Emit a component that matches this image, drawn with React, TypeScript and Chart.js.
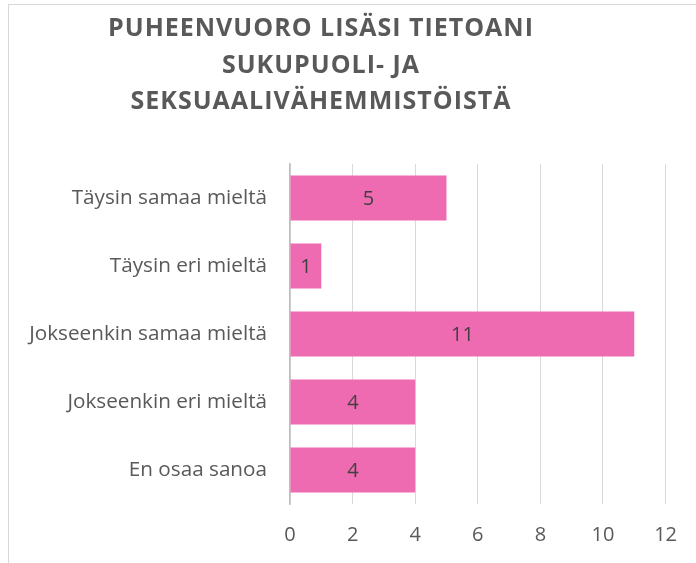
import React, { useEffect, useRef } from "react";
import { Chart, registerables } from "chart.js";

Chart.register(...registerables);

const titleLines = ["PUHEENVUORO LISÄSI TIETOANI", "SUKUPUOLI- JA", "SEKSUAALIVÄHEMMISTÖISTÄ"];
const categories = [
  "Täysin samaa mieltä",
  "Täysin eri mieltä",
  "Jokseenkin samaa mieltä",
  "Jokseenkin eri mieltä",
  "En osaa sanoa",
];
const values = [5, 1, 11, 4, 4];
const xTicks = [0, 2, 4, 6, 8, 10, 12];

const FONT = "'Open Sans', 'DejaVu Sans', sans-serif";
const TEXT = "#595959";
const BAR = "#EE6AB1";

const titlePlugin = {
  id: "customTitle",
  afterDraw(chart: any) {
    const ctx = chart.ctx;
    ctx.save();
    ctx.font = `bold 25px ${FONT}`;
    ctx.fillStyle = TEXT;
    ctx.textAlign = "center";
    ctx.textBaseline = "alphabetic";
    try {
      (ctx as any).letterSpacing = "1px";
    } catch (e) {}
    const cx = 321;
    titleLines.forEach((line, i) => {
      ctx.fillText(line, cx, 36 + i * 36.5);
    });
    ctx.restore();
  },
};

const valueLabelPlugin = {
  id: "valueLabels",
  afterDatasetsDraw(chart: any) {
    const ctx = chart.ctx;
    const meta = chart.getDatasetMeta(0);
    ctx.save();
    ctx.font = `20px ${FONT}`;
    ctx.fillStyle = "#404040";
    ctx.textAlign = "center";
    ctx.textBaseline = "middle";
    meta.data.forEach((bar: any, i: number) => {
      const x = (bar.x + bar.base) / 2;
      ctx.fillText(String(values[i]), x, bar.y + 1);
    });
    ctx.restore();
  },
};

export default function App() {
  const ref = useRef<HTMLCanvasElement | null>(null);
  useEffect(() => {
    if (!ref.current) return;
    const chart = new Chart(ref.current, {
      type: "bar",
      data: {
        labels: categories,
        datasets: [
          {
            data: values,
            backgroundColor: BAR,
            borderWidth: 0,
            categoryPercentage: 1,
            barPercentage: 0.66,
          },
        ],
      },
      options: {
        indexAxis: "y",
        animation: false,
        responsive: false,
        maintainAspectRatio: false,
        layout: { padding: { top: 164, right: 29, bottom: 0, left: 0 } },
        plugins: {
          legend: { display: false },
          title: { display: false },
          tooltip: { enabled: false },
        },
        scales: {
          x: {
            min: 0,
            max: 12,
            afterBuildTicks: (scale: any) => {
              scale.ticks = xTicks.map((v) => ({ value: v }));
            },
            afterFit: (scale: any) => {
              scale.height = 59;
            },
            grid: { color: "#D9D9D9", lineWidth: 1, drawTicks: false },
            border: { display: false },
            ticks: {
              padding: 19,
              color: TEXT,
              font: { family: FONT, size: 20 },
            },
          },
          y: {
            afterFit: (scale: any) => {
              scale.width = 290;
            },
            grid: { display: false, drawTicks: false },
            border: { display: true, color: "#BFBFBF", width: 1.5 },
            ticks: {
              padding: 23,
              color: TEXT,
              font: { family: FONT, size: 20.7 },
            },
          },
        },
      },
      plugins: [titlePlugin, valueLabelPlugin],
    });
    return () => chart.destroy();
  }, []);

  return (
    <div style={{ position: "absolute", left: 0, top: 0, width: 696, height: 563, overflow: "hidden", background: "#fff" }}>
      <div
        style={{
          position: "absolute",
          left: 8,
          top: 4,
          width: 800,
          height: 700,
          borderLeft: "1.5px solid #D9D9D9",
          borderTop: "1.5px solid #D9D9D9",
        }}
      />
      <canvas ref={ref} width={696} height={563} style={{ position: "absolute", left: 0, top: 0, width: 696, height: 563 }} />
    </div>
  );
}
